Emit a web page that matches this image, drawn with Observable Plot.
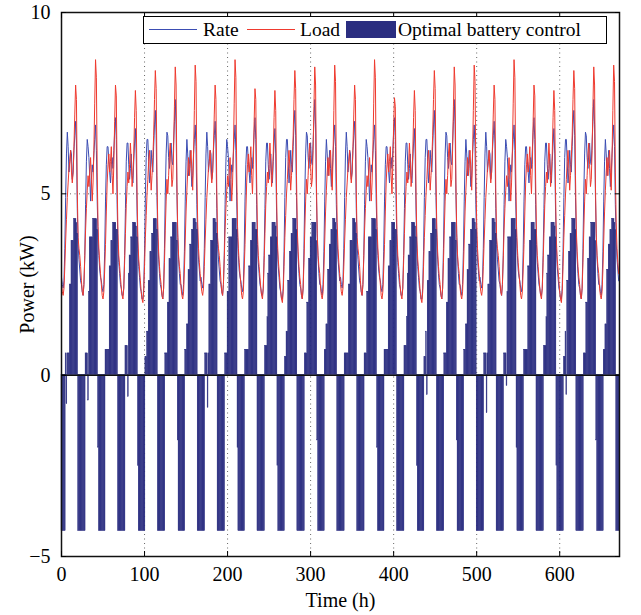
<!DOCTYPE html>
<html>
<head>
<meta charset="utf-8">
<script src="https://cdn.jsdelivr.net/npm/d3@7"></script>
<script src="https://cdn.jsdelivr.net/npm/@observablehq/plot@0.6"></script>
<style>
  html, body { margin: 0; padding: 0; background: white; }
  #wrap { position: relative; width: 641px; height: 615px; font-family: "Liberation Serif", "Times New Roman", serif; }
  #legend { position: absolute; left: 143px; top: 16px; width: 462px; height: 26px; border: 1.5px solid black; background: white; font-size: 19.5px; }
  #legend .sw { position: absolute; }
  #legend .lab { position: absolute; top: 1px; line-height: 24px; white-space: nowrap; }
</style>
</head>
<body>
<div id="wrap">
  <div id="chart"></div>
  <div id="legend"></div>
</div>
<script>
// Hourly values, one row per day (28 days = 672 h)
const loadKW = [
  2.5,2.3,2.2,2.4,3.0,3.7,4.3,4.9,5.3,5.7,5.9,6.2,5.6,5.3,5.6,6.3,7.2,8.0,7.6,5.1,3.8,3.5,3.3,3.0,
  2.6,2.3,2.2,2.5,3.2,4.0,4.6,5.1,5.5,5.2,5.6,6.0,5.4,4.8,5.3,6.2,7.5,8.7,8.2,5.6,4.1,3.5,3.1,2.8,
  2.5,2.2,2.1,2.3,2.9,3.6,4.5,5.3,5.8,6.1,5.6,5.9,6.3,5.5,5.0,5.8,7.0,8.0,7.7,5.4,3.9,3.3,3.0,2.7,
  2.4,2.2,2.1,2.4,3.1,3.9,4.7,5.2,5.6,5.3,5.8,6.4,5.9,5.2,5.5,6.1,7.1,7.85,7.3,5.0,3.7,3.2,2.9,2.6,
  2.3,2.1,2.0,2.3,3.0,3.8,4.4,5.0,5.4,5.9,6.2,5.7,5.1,5.5,6.0,6.6,7.6,8.4,7.9,5.5,4.0,3.4,3.0,2.7,
  2.5,2.2,2.1,2.4,3.1,4.0,4.8,5.4,5.0,5.5,6.1,6.4,5.8,5.2,5.4,6.2,7.4,8.5,8.0,5.3,3.9,3.3,3.0,2.8,
  2.4,2.2,2.1,2.3,2.9,3.7,4.5,5.1,5.6,6.0,5.5,5.9,6.2,5.6,5.1,6.0,7.3,8.55,8.1,5.6,4.2,3.5,3.1,2.8,
  2.5,2.3,2.2,2.4,3.0,3.7,4.3,4.9,5.3,5.7,5.9,6.2,5.6,5.3,5.6,6.3,7.2,8.0,7.6,5.1,3.8,3.5,3.3,3.0,
  2.6,2.3,2.2,2.5,3.2,4.0,4.6,5.1,5.5,5.2,5.6,6.0,5.4,4.8,5.3,6.2,7.5,8.7,8.2,5.6,4.1,3.5,3.1,2.8,
  2.5,2.2,2.1,2.3,2.9,3.6,4.5,5.3,5.8,6.1,5.6,5.9,6.3,5.5,5.0,5.8,7.0,7.9,7.6,5.4,3.9,3.3,3.0,2.7,
  2.4,2.2,2.1,2.4,3.1,3.9,4.7,5.2,5.6,5.3,5.8,6.4,5.9,5.2,5.5,6.1,7.1,7.85,7.3,5.0,3.7,3.2,2.9,2.6,
  2.3,2.1,2.0,2.3,3.0,3.8,4.4,5.0,5.4,5.9,6.2,5.7,5.1,5.5,6.0,6.6,7.6,8.4,7.9,5.5,4.0,3.4,3.0,2.7,
  2.5,2.2,2.1,2.4,3.1,4.0,4.8,5.4,5.0,5.5,6.1,6.4,5.8,5.2,5.4,6.2,7.4,8.5,8.0,5.3,3.9,3.3,3.0,2.8,
  2.4,2.2,2.1,2.3,2.9,3.7,4.5,5.1,5.6,6.0,5.5,5.9,6.2,5.6,5.1,6.0,7.3,8.55,8.1,5.6,4.2,3.5,3.1,2.8,
  2.5,2.3,2.2,2.4,3.0,3.7,4.3,4.9,5.3,5.7,5.9,6.2,5.6,5.3,5.6,6.3,7.2,8.0,7.6,5.1,3.8,3.5,3.3,3.0,
  2.6,2.3,2.2,2.5,3.2,4.0,4.6,5.1,5.5,5.2,5.6,6.0,5.4,4.8,5.3,6.2,7.5,8.7,8.2,5.6,4.1,3.5,3.1,2.8,
  2.5,2.2,2.1,2.3,2.9,3.6,4.5,5.3,5.8,6.1,5.6,5.9,6.3,5.5,5.0,5.8,6.9,7.65,7.4,5.4,3.9,3.3,3.0,2.7,
  2.4,2.2,2.1,2.4,3.1,3.9,4.7,5.2,5.6,5.3,5.8,6.4,5.9,5.2,5.5,6.1,7.1,7.85,7.3,5.0,3.7,3.2,2.9,2.6,
  2.3,2.1,2.0,2.3,3.0,3.8,4.4,5.0,5.4,5.9,6.2,5.7,5.1,5.5,6.0,6.6,7.6,8.4,7.9,5.5,4.0,3.4,3.0,2.7,
  2.5,2.2,2.1,2.4,3.1,4.0,4.8,5.4,5.0,5.5,6.1,6.4,5.8,5.2,5.4,6.2,7.4,8.5,8.0,5.3,3.9,3.3,3.0,2.8,
  2.4,2.2,2.1,2.3,2.9,3.7,4.5,5.1,5.6,6.0,5.5,5.9,6.2,5.6,5.1,6.0,7.3,8.55,8.1,5.6,4.2,3.5,3.1,2.8,
  2.5,2.3,2.2,2.4,3.0,3.7,4.3,4.9,5.3,5.7,5.9,6.2,5.6,5.3,5.6,6.3,7.2,8.0,7.6,5.1,3.8,3.5,3.3,3.0,
  2.6,2.3,2.2,2.5,3.2,4.0,4.6,5.1,5.5,5.2,5.6,6.0,5.4,4.8,5.3,6.2,7.5,8.7,8.2,5.6,4.1,3.5,3.1,2.8,
  2.5,2.2,2.1,2.3,2.9,3.6,4.5,5.3,5.8,6.1,5.6,5.9,6.3,5.5,5.0,5.8,7.0,8.0,7.7,5.4,3.9,3.3,3.0,2.7,
  2.4,2.2,2.1,2.4,3.1,3.9,4.7,5.2,5.6,5.3,5.8,6.4,5.9,5.2,5.5,6.1,7.1,7.85,7.3,5.0,3.7,3.2,2.9,2.6,
  2.3,2.1,2.0,2.3,3.0,3.8,4.4,5.0,5.4,5.9,6.2,5.7,5.1,5.5,6.0,6.6,7.6,8.4,7.9,5.5,4.0,3.4,3.0,2.7,
  2.5,2.2,2.1,2.4,3.1,4.0,4.8,5.4,5.0,5.5,6.1,6.4,5.8,5.2,5.4,6.2,7.4,8.5,8.0,5.3,3.9,3.3,3.0,2.8,
  2.4,2.2,2.1,2.3,2.9,3.7,4.5,5.1,5.6,6.0,5.5,5.9,6.2,5.6,5.1,6.0,7.3,8.55,8.1,5.6,4.2,3.5,3.1,2.8
];
const rateKW = [
  2.7,2.5,2.4,2.6,3.5,4.9,6.1,6.7,6.3,5.6,5.9,6.2,6.1,5.4,5.6,6.2,6.6,7.0,6.4,4.6,3.6,3.2,2.9,2.6,
  2.5,2.3,2.2,2.5,3.3,4.7,5.9,6.5,6.3,6.0,5.5,4.8,5.4,5.8,5.6,6.1,6.5,6.9,6.2,4.8,3.8,3.3,2.9,2.7,
  2.6,2.4,2.3,2.5,3.4,4.8,5.8,6.3,6.3,5.9,5.6,5.3,5.8,6.0,5.7,6.2,6.7,7.1,6.5,4.7,3.6,3.1,2.8,2.5,
  2.4,2.2,2.2,2.4,3.3,4.6,5.9,6.4,6.4,5.8,5.4,5.7,6.1,5.5,5.3,5.9,6.4,6.8,6.1,4.5,3.5,3.0,2.7,2.4,
  2.3,2.1,2.1,2.4,3.4,4.9,6.0,6.5,6.5,5.9,5.3,5.6,6.2,5.8,5.6,6.3,6.9,7.3,6.6,4.9,3.8,3.2,2.8,2.5,
  2.4,2.2,2.1,2.4,3.5,5.0,6.1,6.7,6.6,6.0,5.7,6.1,6.4,5.9,5.8,6.4,7.0,7.6,6.9,5.0,3.8,3.2,2.8,2.5,
  2.5,2.3,2.2,2.5,3.4,4.8,5.9,6.5,6.1,5.5,5.8,6.2,5.7,5.2,5.5,6.1,6.5,6.9,6.3,4.7,3.7,3.2,2.9,2.6,
  2.7,2.5,2.4,2.6,3.5,4.9,6.1,6.7,6.3,5.6,5.9,6.2,6.1,5.4,5.6,6.2,6.6,7.0,6.4,4.6,3.6,3.2,2.9,2.6,
  2.5,2.3,2.2,2.5,3.3,4.7,5.9,6.5,6.3,6.0,5.5,4.8,5.4,5.8,5.6,6.1,6.5,6.9,6.2,4.8,3.8,3.3,2.9,2.7,
  2.6,2.4,2.3,2.5,3.4,4.8,5.8,6.3,6.3,5.9,5.6,5.3,5.8,6.0,5.7,6.2,6.7,7.1,6.5,4.7,3.6,3.1,2.8,2.5,
  2.4,2.2,2.2,2.4,3.3,4.6,5.9,6.4,6.4,5.8,5.4,5.7,6.1,5.5,5.3,5.9,6.4,6.8,6.1,4.5,3.5,3.0,2.7,2.4,
  2.3,2.1,2.1,2.4,3.4,4.9,6.0,6.5,6.5,5.9,5.3,5.6,6.2,5.8,5.6,6.3,6.9,7.3,6.6,4.9,3.8,3.2,2.8,2.5,
  2.4,2.2,2.1,2.4,3.5,5.0,6.1,6.7,6.6,6.0,5.7,6.1,6.4,5.9,5.8,6.4,7.0,7.6,6.9,5.0,3.8,3.2,2.8,2.5,
  2.5,2.3,2.2,2.5,3.4,4.8,5.9,6.5,6.1,5.5,5.8,6.2,5.7,5.2,5.5,6.1,6.5,6.9,6.3,4.7,3.7,3.2,2.9,2.6,
  2.7,2.5,2.4,2.6,3.5,4.9,6.1,6.7,6.3,5.6,5.9,6.2,6.1,5.4,5.6,6.2,6.6,7.0,6.4,4.6,3.6,3.2,2.9,2.6,
  2.5,2.3,2.2,2.5,3.3,4.7,5.9,6.5,6.3,6.0,5.5,4.8,5.4,5.8,5.6,6.1,6.5,6.9,6.2,4.8,3.8,3.3,2.9,2.7,
  2.6,2.4,2.3,2.5,3.4,4.8,5.8,6.3,6.3,5.9,5.6,5.3,5.8,6.0,5.7,6.2,6.7,7.1,6.5,4.7,3.6,3.1,2.8,2.5,
  2.4,2.2,2.2,2.4,3.3,4.6,5.9,6.4,6.4,5.8,5.4,5.7,6.1,5.5,5.3,5.9,6.4,6.8,6.1,4.5,3.5,3.0,2.7,2.4,
  2.3,2.1,2.1,2.4,3.4,4.9,6.0,6.5,6.5,5.9,5.3,5.6,6.2,5.8,5.6,6.3,6.9,7.3,6.6,4.9,3.8,3.2,2.8,2.5,
  2.4,2.2,2.1,2.4,3.5,5.0,6.1,6.7,6.6,6.0,5.7,6.1,6.4,5.9,5.8,6.4,7.0,7.6,6.9,5.0,3.8,3.2,2.8,2.5,
  2.5,2.3,2.2,2.5,3.4,4.8,5.9,6.5,6.1,5.5,5.8,6.2,5.7,5.2,5.5,6.1,6.5,6.9,6.3,4.7,3.7,3.2,2.9,2.6,
  2.7,2.5,2.4,2.6,3.5,4.9,6.1,6.7,6.3,5.6,5.9,6.2,6.1,5.4,5.6,6.2,6.6,7.0,6.4,4.6,3.6,3.2,2.9,2.6,
  2.5,2.3,2.2,2.5,3.3,4.7,5.9,6.5,6.3,6.0,5.5,4.8,5.4,5.8,5.6,6.1,6.5,6.9,6.2,4.8,3.8,3.3,2.9,2.7,
  2.6,2.4,2.3,2.5,3.4,4.8,5.8,6.3,6.3,5.9,5.6,5.3,5.8,6.0,5.7,6.2,6.7,7.1,6.5,4.7,3.6,3.1,2.8,2.5,
  2.4,2.2,2.2,2.4,3.3,4.6,5.9,6.4,6.4,5.8,5.4,5.7,6.1,5.5,5.3,5.9,6.4,6.8,6.1,4.5,3.5,3.0,2.7,2.4,
  2.3,2.1,2.1,2.4,3.4,4.9,6.0,6.5,6.5,5.9,5.3,5.6,6.2,5.8,5.6,6.3,6.9,7.3,6.6,4.9,3.8,3.2,2.8,2.5,
  2.4,2.2,2.1,2.4,3.5,5.0,6.1,6.7,6.6,6.0,5.7,6.1,6.4,5.9,5.8,6.4,7.0,7.6,6.9,5.0,3.8,3.2,2.8,2.5,
  2.5,2.3,2.2,2.5,3.4,4.8,5.9,6.5,6.1,5.5,5.8,6.2,5.7,5.2,5.5,6.1,6.5,6.9,6.3,4.7,3.7,3.2,2.9,2.6
];
const batteryKW = [
  -4.3,-4.3,-4.3,-4.3,-4.3,0.6,-0.8,0.6,0.6,0.6,2.5,2.5,3.7,3.7,3.7,4.3,4.3,4.3,4.2,3.9,-4.3,-4.3,-4.3,-4.3,
  -4.3,-4.3,-4.3,-4.3,-4.3,0.6,0.6,0.6,-0.7,2.3,3.8,3.8,3.8,3.8,4.3,4.3,4.3,4.3,4.3,4.0,-2.0,-4.3,-4.3,-4.3,
  -4.3,-4.3,-4.3,-4.3,-4.3,0.7,0.7,0.7,0.7,0.7,3.0,3.0,3.7,3.7,4.2,4.2,4.2,4.2,4.0,4.0,-4.3,-4.3,-4.3,-4.3,
  -4.3,-4.3,-4.3,-4.3,-4.3,0.8,0.8,0.8,-0.6,2.8,3.3,3.3,3.8,3.8,4.2,4.2,4.2,4.2,4.1,3.8,-2.5,-4.3,-4.3,-4.3,
  -4.3,-4.3,-4.3,-4.3,-4.3,0.5,0.5,1.2,1.2,2.6,2.6,3.4,3.4,3.9,3.9,4.3,4.3,4.3,4.3,4.0,-4.3,-4.3,-4.3,-4.3,
  -4.3,-4.3,-4.3,-4.3,-4.3,0.6,0.6,0.6,2.0,2.0,3.2,3.2,3.8,3.8,4.2,4.2,4.2,4.2,4.2,3.7,-1.8,-4.3,-4.3,-4.3,
  -4.3,-4.3,-4.3,-4.3,-4.3,0.7,0.7,1.4,1.4,2.9,2.9,3.6,3.6,4.0,4.0,4.3,4.3,4.3,4.2,4.0,-4.3,-4.3,-4.3,-4.3,
  -4.3,-4.3,-4.3,-4.3,-4.3,0.6,0.6,0.6,-0.9,0.6,2.5,2.5,3.7,3.7,3.7,4.3,4.3,4.3,4.2,3.9,-4.3,-4.3,-4.3,-4.3,
  -4.3,-4.3,-4.3,-4.3,-4.3,0.6,0.6,0.6,2.3,2.3,3.8,3.8,3.8,3.8,4.3,4.3,4.3,4.3,4.3,4.0,-2.0,-4.3,-4.3,-4.3,
  -4.3,-4.3,-4.3,-4.3,-4.3,0.7,0.7,0.7,0.7,0.7,3.0,3.0,3.7,3.7,4.2,4.2,4.2,4.2,4.0,4.0,-4.3,-4.3,-4.3,-4.3,
  -4.3,-4.3,-4.3,-4.3,-4.3,0.8,0.8,0.8,1.6,2.8,3.3,3.3,3.8,3.8,4.2,4.2,4.2,4.2,4.1,3.8,-2.5,-4.3,-4.3,-4.3,
  -4.3,-4.3,-4.3,-4.3,-4.3,0.5,0.5,1.2,1.2,2.6,2.6,3.4,3.4,3.9,3.9,4.3,4.3,4.3,4.3,4.0,-4.3,-4.3,-4.3,-4.3,
  -4.3,-4.3,-4.3,-4.3,-4.3,0.6,0.6,0.6,2.0,2.0,3.2,3.2,3.8,3.8,4.2,4.2,4.2,4.2,4.2,3.7,-1.8,-4.3,-4.3,-4.3,
  -4.3,-4.3,-4.3,-4.3,-4.3,0.7,0.7,1.4,1.4,2.9,2.9,3.6,3.6,4.0,4.0,4.3,4.3,4.3,4.2,4.0,-4.3,-4.3,-4.3,-4.3,
  -4.3,-4.3,-4.3,-4.3,-4.3,0.6,0.6,0.6,0.6,0.6,2.5,2.5,3.7,3.7,3.7,4.3,4.3,4.3,4.2,3.9,-4.3,-4.3,-4.3,-4.3,
  -4.3,-4.3,-4.3,-4.3,-4.3,0.6,0.6,0.6,2.3,2.3,3.8,3.8,3.8,3.8,4.3,4.3,4.3,4.3,4.3,4.0,-2.0,-4.3,-4.3,-4.3,
  -4.3,-4.3,-4.3,-4.3,-4.3,0.7,0.7,0.7,0.7,0.7,3.0,3.0,3.7,3.7,4.2,4.2,4.2,4.2,4.0,4.0,-4.3,-4.3,-4.3,-4.3,
  -4.3,-4.3,-4.3,-4.3,-4.3,0.8,0.8,0.8,1.6,2.8,3.3,3.3,3.8,3.8,4.2,4.2,4.2,4.2,4.1,3.8,-2.5,-4.3,-4.3,-4.3,
  -4.3,-4.3,-4.3,-4.3,-4.3,0.5,0.5,1.2,-0.55,2.6,2.6,3.4,3.4,3.9,3.9,4.3,4.3,4.3,4.3,4.0,-4.3,-4.3,-4.3,-4.3,
  -4.3,-4.3,-4.3,-4.3,-4.3,0.6,0.6,0.6,2.0,2.0,3.2,3.2,3.8,3.8,4.2,4.2,4.2,4.2,4.2,3.7,-1.8,-4.3,-4.3,-4.3,
  -4.3,-4.3,-4.3,-4.3,-4.3,0.7,0.7,1.4,1.4,2.9,2.9,3.6,3.6,4.0,4.0,4.3,4.3,4.3,4.2,4.0,-4.3,-4.3,-4.3,-4.3,
  -4.3,-4.3,-4.3,-4.3,-4.3,0.6,0.6,0.6,-1.05,0.6,2.5,2.5,3.7,3.7,3.7,4.3,4.3,4.3,4.2,3.9,-4.3,-4.3,-4.3,-4.3,
  -4.3,-4.3,-4.3,-4.3,-4.3,0.6,0.6,0.6,-0.3,2.3,3.8,3.8,3.8,3.8,4.3,4.3,4.3,4.3,4.3,4.0,-2.0,-4.3,-4.3,-4.3,
  -4.3,-4.3,-4.3,-4.3,-4.3,0.7,0.7,0.7,0.7,0.7,3.0,3.0,3.7,3.7,4.2,4.2,4.2,4.2,4.0,4.0,-4.3,-4.3,-4.3,-4.3,
  -4.3,-4.3,-4.3,-4.3,-4.3,0.8,0.8,0.8,1.6,2.8,3.3,3.3,3.8,3.8,4.2,4.2,4.2,4.2,4.1,3.8,-2.5,-4.3,-4.3,-4.3,
  -4.3,-4.3,-4.3,-4.3,-4.3,0.5,0.5,1.2,-0.55,2.6,2.6,3.4,3.4,3.9,3.9,4.3,4.3,4.3,4.3,4.0,-4.3,-4.3,-4.3,-4.3,
  -4.3,-4.3,-4.3,-4.3,-4.3,0.6,0.6,0.6,2.0,2.0,3.2,3.2,3.8,3.8,4.2,4.2,4.2,4.2,4.2,3.7,-1.8,-4.3,-4.3,-4.3,
  -4.3,-4.3,-4.3,-4.3,-4.3,0.7,0.7,1.4,1.4,2.9,2.9,3.6,3.6,4.0,4.0,4.3,4.3,4.3,4.2,4.0,-4.3,-4.3,-4.3,-4.3
];
const xTicks = [0, 100, 200, 300, 400, 500, 600];
const yTicks = [-5, 0, 5, 10];
const seriesNames = ["Rate", "Load", "Optimal battery control"];
const seriesColors = ["#3b4db3", "#ef3a2f", "#2b2e80"];

const rows = loadKW.map((v, i) => ({t: i, load: v, rate: rateKW[i], batt: batteryKW[i]}));
const noLabel = () => "";

const chart = Plot.plot({
  width: 641,
  height: 615,
  marginLeft: 61,
  marginRight: 22,
  marginTop: 12,
  marginBottom: 59,
  style: {fontFamily: "'Liberation Serif', 'Times New Roman', serif", fontSize: "20px", background: "white", color: "black"},
  x: {domain: [0, 672]},
  y: {domain: [-5, 10]},
  marks: [
    Plot.gridX(xTicks.slice(1), {stroke: "#555", strokeOpacity: 0.9, strokeDasharray: "1,3.5", strokeWidth: 1}),
    Plot.gridY([5], {stroke: "#555", strokeOpacity: 0.9, strokeDasharray: "1,3.5", strokeWidth: 1}),
    Plot.lineY(rows, {x: "t", y: "rate", stroke: seriesColors[0], strokeWidth: 1}),
    Plot.lineY(rows, {x: "t", y: "load", stroke: seriesColors[1], strokeWidth: 1}),
    Plot.rectY(rows, {x1: "t", x2: d => d.t + 1, y: "batt", fill: seriesColors[2], stroke: seriesColors[2], strokeWidth: 0.4, inset: 0}),
    Plot.ruleY([0], {stroke: "#111", strokeWidth: 1.5}),
    Plot.frame({stroke: "#111", strokeWidth: 1.5}),
    Plot.axisX(xTicks, {anchor: "bottom", tickSize: -5, tickPadding: 15, label: "Time (h)", labelAnchor: "center", labelArrow: "none", labelOffset: 50}),
    Plot.axisX(xTicks, {anchor: "top", tickSize: -5, tickFormat: noLabel, label: null}),
    Plot.axisY(yTicks, {anchor: "left", tickSize: -5, tickPadding: 16, label: "Power (kW)", labelAnchor: "center", labelArrow: "none", labelOffset: 42}),
    Plot.axisY(yTicks, {anchor: "right", tickSize: -5, tickFormat: noLabel, label: null})
  ]
});
document.getElementById("chart").appendChild(chart);

// Legend (inside plot area, top right)
const legend = document.getElementById("legend");
const items = [
  {kind: "line", x: 5, w: 48, label: seriesNames[0], lx: 59},
  {kind: "line", x: 103, w: 48, label: seriesNames[1], lx: 156},
  {kind: "rect", x: 202, w: 50, label: seriesNames[2], lx: 254}
];
items.forEach((it, i) => {
  const sw = document.createElement("div");
  sw.className = "sw";
  sw.style.left = it.x + "px";
  sw.style.width = it.w + "px";
  if (it.kind === "line") {
    sw.style.top = "12px";
    sw.style.height = "0px";
    sw.style.borderTop = "1.5px solid " + seriesColors[i];
  } else {
    sw.style.top = "4px";
    sw.style.height = "17px";
    sw.style.background = seriesColors[i];
  }
  legend.appendChild(sw);
  const lab = document.createElement("div");
  lab.className = "lab";
  lab.style.left = it.lx + "px";
  lab.textContent = it.label;
  legend.appendChild(lab);
});
</script>
</body>
</html>
